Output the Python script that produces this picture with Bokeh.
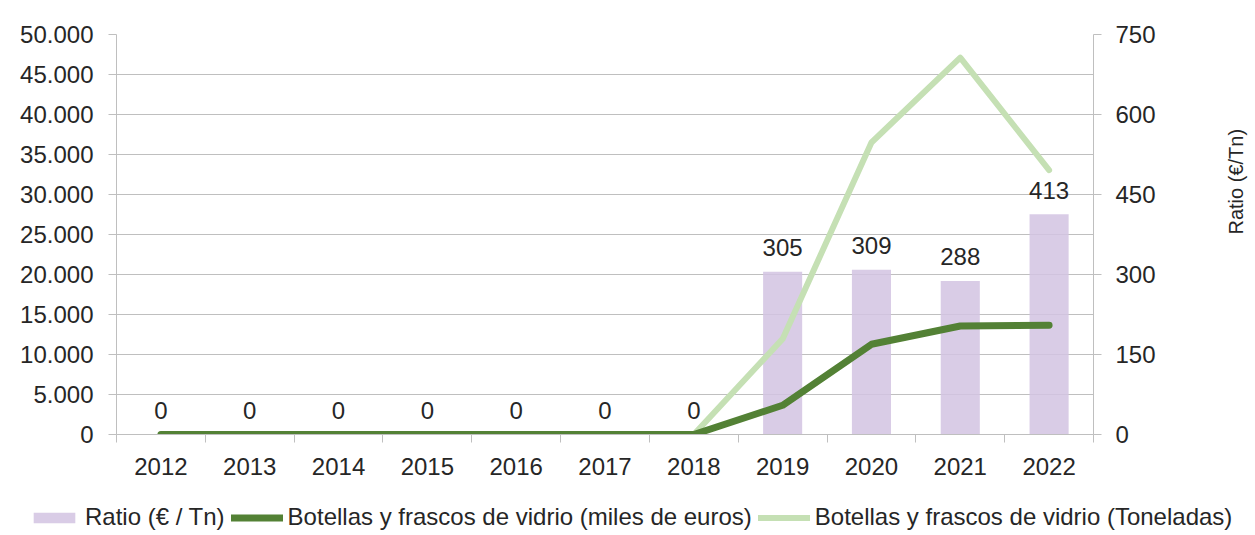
import math
from bokeh.plotting import figure
from bokeh.models import Range1d, LinearAxis, FixedTicker, ColumnDataSource, Legend, LegendItem
from bokeh.embed import file_html
from bokeh.resources import INLINE

years = [2012, 2013, 2014, 2015, 2016, 2017, 2018, 2019, 2020, 2021, 2022]
ratio = [0, 0, 0, 0, 0, 0, 0, 305, 309, 288, 413]
miles_euros = [0, 0, 0, 0, 0, 0, 0, 3650, 11280, 13565, 13650]
toneladas = [0, 0, 0, 0, 0, 0, 0, 11950, 36500, 47100, 33050]
left_ticks = [0, 5000, 10000, 15000, 20000, 25000, 30000, 35000, 40000, 45000, 50000]
right_ticks = [0, 150, 300, 450, 600, 750]
legend_labels = ["Ratio (€ / Tn)",
                 "Botellas y frascos de vidrio (miles de euros)",
                 "Botellas y frascos de vidrio (Toneladas)"]

FONT = "Liberation Sans"
TXT = "#262626"
GRID = "#bfbfbf"
BAR_C = "#d2c3e2"
EUR_C = "#538135"
TON_C = "#c5e0b4"

src = ColumnDataSource(dict(
    year=years, ratio=ratio, euros=miles_euros, tons=toneladas,
    label=[str(v) for v in ratio],
))

p = figure(frame_width=977, frame_height=400,
           x_range=Range1d(years[0] - 0.5, years[-1] + 0.5),
           y_range=Range1d(left_ticks[0], left_ticks[-1]),
           output_backend="svg", toolbar_location=None,
           min_border_left=116, min_border_top=34, min_border_right=150, min_border_bottom=0)
p.extra_y_ranges = {"ratio": Range1d(right_ticks[0], right_ticks[-1])}
p.outline_line_color = None
p.background_fill_color = "white"

# x axis
xa = p.xaxis[0]
xa.ticker = FixedTicker(ticks=years, minor_ticks=[y - 0.5 for y in years] + [years[-1] + 0.5])
xa.major_tick_line_color = None
xa.major_tick_in = 0
xa.major_tick_out = 0
xa.minor_tick_line_color = GRID
xa.minor_tick_in = 0
xa.minor_tick_out = 8
xa.major_label_standoff = 15
xa.axis_line_color = GRID
xa.major_label_text_font = FONT
xa.major_label_text_font_size = "24px"
xa.major_label_text_color = TXT
xa.axis_label = "_"
xa.axis_label_text_alpha = 0
xa.axis_label_text_font_size = "1px"
xa.axis_label_standoff = 4
p.xgrid.grid_line_color = None

# separator line below the category labels
sep = LinearAxis(ticker=FixedTicker(ticks=[]), axis_line_color=GRID,
                 major_tick_line_color=None, minor_tick_line_color=None,
                 major_tick_in=0, major_tick_out=0, minor_tick_in=0, minor_tick_out=0,
                 major_label_standoff=0, major_label_text_font_size="0px")
p.add_layout(sep, "below")

# left axis
ya = p.yaxis[0]
ya.ticker = FixedTicker(ticks=left_ticks)
ya.major_label_overrides = {t: f"{t:,}".replace(",", ".") for t in left_ticks}
ya.minor_tick_line_color = None
ya.major_tick_in = 0
ya.major_tick_out = 8
ya.major_tick_line_color = GRID
ya.axis_line_color = GRID
ya.major_label_standoff = 15
ya.major_label_text_font = FONT
ya.major_label_text_font_size = "24px"
ya.major_label_text_color = TXT
p.ygrid.ticker = FixedTicker(ticks=left_ticks)
p.ygrid.grid_line_color = GRID
p.ygrid.grid_line_width = 1

# right axis
ra = LinearAxis(y_range_name="ratio", ticker=FixedTicker(ticks=right_ticks),
                axis_label="Ratio (€/Tn)")
ra.minor_tick_line_color = None
ra.major_tick_in = 0
ra.major_tick_out = 8
ra.major_tick_line_color = GRID
ra.axis_line_color = GRID
ra.major_label_standoff = 14
ra.major_label_text_font = FONT
ra.major_label_text_font_size = "24px"
ra.major_label_text_color = TXT
ra.axis_label_text_font = FONT
ra.axis_label_text_font_size = "20px"
ra.axis_label_text_font_style = "normal"
ra.axis_label_text_color = TXT
ra.axis_label_standoff = 77
ra.axis_label_orientation = math.pi / 2
p.add_layout(ra, "right")

bars = p.vbar(x="year", top="ratio", width=0.44, source=src, y_range_name="ratio",
              fill_color=BAR_C, fill_alpha=0.85, line_color=None)
l_eur = p.line("year", "euros", source=src, line_color=EUR_C, line_width=7,
               line_cap="round", line_join="round")
l_ton = p.line("year", "tons", source=src, line_color=TON_C, line_width=6,
               line_cap="round", line_join="round")
p.renderers = [bars, l_ton, l_eur]

p.text(x="year", y="ratio", text="label", source=src, y_range_name="ratio",
       text_align="center", text_baseline="middle", y_offset=-24,
       text_font={"value": FONT}, text_font_size={"value": "24px"}, text_color=TXT)

# legend strip below the chart (separate root, so its frame spans the full width)
lf = figure(width=1245, height=46, output_backend="svg", toolbar_location=None,
            x_axis_location=None, y_axis_location=None, min_border=0,
            x_range=Range1d(0, 1), y_range=Range1d(0, 1))
lf.outline_line_color = None
lf.grid.visible = False
proxy = ColumnDataSource(dict(x=[-5], y=[-5]))
lb = lf.vbar(x="x", top="y", width=0.1, source=proxy, fill_color=BAR_C, fill_alpha=0.85, line_color=None)
le = lf.line("x", "y", source=proxy, line_color=EUR_C, line_width=7, line_cap="round")
lt = lf.line("x", "y", source=proxy, line_color=TON_C, line_width=6, line_cap="round")

legend = Legend(items=[
    LegendItem(label=legend_labels[0], renderers=[lb]),
    LegendItem(label=legend_labels[1], renderers=[le]),
    LegendItem(label=legend_labels[2], renderers=[lt]),
], orientation="horizontal", location=(28, 0))
legend.label_text_font = FONT
legend.label_text_font_size = "24px"
legend.label_text_color = TXT
legend.glyph_width = 52
legend.glyph_height = 13
legend.label_standoff = 5
legend.spacing = 6
legend.padding = 0
legend.margin = 0
legend.border_line_color = None
legend.background_fill_alpha = 0
lf.add_layout(legend, "center")

open("out.html", "w").write(file_html([p, lf], INLINE))
